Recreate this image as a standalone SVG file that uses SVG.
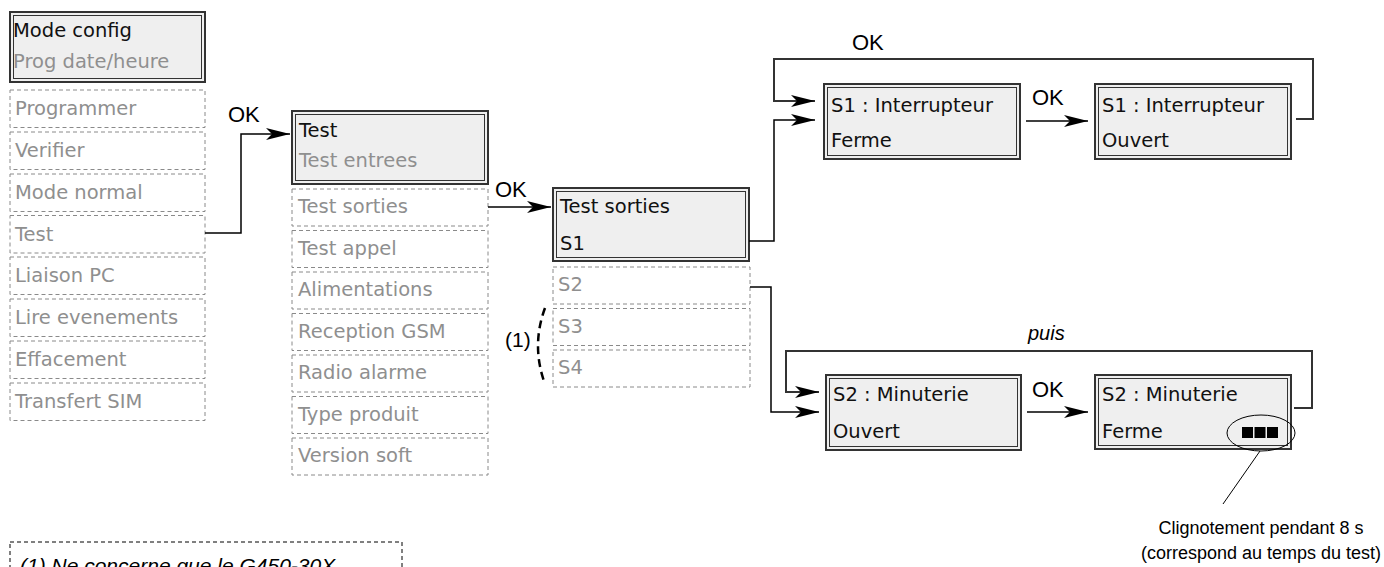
<svg xmlns="http://www.w3.org/2000/svg" width="1384" height="567" viewBox="0 0 1384 567">
<style>
  .main-o { fill: #efefef; stroke: #333; stroke-width: 2; }
  .main-i { fill: none; stroke: #333; stroke-width: 1; }
  .dash { fill: #fff; stroke: #8a8a8a; stroke-width: 1; stroke-dasharray: 4 3; }
  .t { font-family: "DejaVu Sans", "Liberation Sans", sans-serif; font-size: 19.5px; }
  .blk { fill: #111; }
  .gry { fill: #8f8f8f; }
  .lbl { font-family: "Liberation Sans", Arial, sans-serif; font-size: 22px; fill: #000; }
  .cap { font-family: "Liberation Sans", Arial, sans-serif; font-size: 18px; fill: #000; }
  .conn { fill: none; stroke: #000; stroke-width: 1.5; }
  .loop { fill: none; stroke: #333; stroke-width: 2; }
</style>
<defs>
  <marker id="ah" markerWidth="24" markerHeight="14" refX="24" refY="7" orient="auto" markerUnits="userSpaceOnUse">
    <path d="M0,1 L24,7 L0,13 L6,7 z" fill="#000"/>
  </marker>
</defs>

<!-- Left column -->
<g id="mode-config">
  <rect class="main-o" x="10" y="12" width="195" height="70"/>
  <rect class="main-i" x="13.5" y="15.5" width="188" height="63"/>
  <text class="t blk" x="13" y="37">Mode config</text>
  <text class="t gry" x="13" y="68">Prog date/heure</text>
</g>
<g id="menu-left">
  <g id="programmer"><rect class="dash" x="10" y="90" width="195" height="37.5"/><text class="t gry" x="15" y="115">Programmer</text></g>
  <g id="verifier"><rect class="dash" x="10" y="132" width="195" height="37.5"/><text class="t gry" x="15" y="157">Verifier</text></g>
  <g id="mode-normal"><rect class="dash" x="10" y="174" width="195" height="37.5"/><text class="t gry" x="15" y="199">Mode normal</text></g>
  <g id="test-item"><rect class="dash" x="10" y="215.5" width="195" height="37.5"/><text class="t gry" x="15" y="240.5">Test</text></g>
  <g id="liaison-pc"><rect class="dash" x="10" y="257" width="195" height="37.5"/><text class="t gry" x="15" y="282">Liaison PC</text></g>
  <g id="lire-evenements"><rect class="dash" x="10" y="299" width="195" height="37.5"/><text class="t gry" x="15" y="324">Lire evenements</text></g>
  <g id="effacement"><rect class="dash" x="10" y="341" width="195" height="37.5"/><text class="t gry" x="15" y="366">Effacement</text></g>
  <g id="transfert-sim"><rect class="dash" x="10" y="383" width="195" height="37.5"/><text class="t gry" x="15" y="408">Transfert SIM</text></g>
</g>

<!-- Middle column -->
<g id="test">
  <rect class="main-o" x="292" y="111" width="196" height="73"/>
  <rect class="main-i" x="295.5" y="114.5" width="189" height="66"/>
  <text class="t blk" x="299" y="137">Test</text>
  <text class="t gry" x="299" y="167">Test entrees</text>
</g>
<g id="menu-test">
  <g id="test-sorties-item"><rect class="dash" x="292" y="189" width="196" height="37"/><text class="t gry" x="298" y="213">Test sorties</text></g>
  <g id="test-appel"><rect class="dash" x="292" y="230.5" width="196" height="37"/><text class="t gry" x="298" y="254.5">Test appel</text></g>
  <g id="alimentations"><rect class="dash" x="292" y="272" width="196" height="37"/><text class="t gry" x="298" y="296">Alimentations</text></g>
  <g id="reception-gsm"><rect class="dash" x="292" y="313.5" width="196" height="37"/><text class="t gry" x="298" y="337.5">Reception GSM</text></g>
  <g id="radio-alarme"><rect class="dash" x="292" y="355" width="196" height="37"/><text class="t gry" x="298" y="379">Radio alarme</text></g>
  <g id="type-produit"><rect class="dash" x="292" y="396.5" width="196" height="37"/><text class="t gry" x="298" y="420.5">Type produit</text></g>
  <g id="version-soft"><rect class="dash" x="292" y="438" width="196" height="37"/><text class="t gry" x="298" y="462">Version soft</text></g>
</g>

<!-- Test sorties column -->
<g id="test-sorties">
  <rect class="main-o" x="553" y="188" width="196" height="73"/>
  <rect class="main-i" x="556.5" y="191.5" width="189" height="66"/>
  <text class="t blk" x="560" y="213">Test sorties</text>
  <text class="t blk" x="560" y="250">S1</text>
</g>
<g id="menu-sorties">
  <g id="s2"><rect class="dash" x="553" y="267" width="197" height="37"/><text class="t gry" x="558" y="291">S2</text></g>
  <g id="s3"><rect class="dash" x="553" y="308.5" width="197" height="37"/><text class="t gry" x="558" y="332.5">S3</text></g>
  <g id="s4"><rect class="dash" x="553" y="350" width="197" height="37"/><text class="t gry" x="558" y="374">S4</text></g>
</g>
<g id="note-1">
  <path d="M545,308 Q531,346 545,384" fill="none" stroke="#000" stroke-width="2.5" stroke-dasharray="8 5"/>
  <text class="lbl" x="505" y="347" style="font-size:21px">(1)</text>
</g>

<!-- S1 states -->
<g id="s1-ferme">
  <rect class="main-o" x="824" y="84" width="196" height="75"/>
  <rect class="main-i" x="827.5" y="87.5" width="189" height="68"/>
  <text class="t blk" x="831" y="112">S1 : Interrupteur</text>
  <text class="t blk" x="831" y="147">Ferme</text>
</g>
<g id="s1-ouvert">
  <rect class="main-o" x="1095" y="84" width="196" height="75"/>
  <rect class="main-i" x="1098.5" y="87.5" width="189" height="68"/>
  <text class="t blk" x="1102" y="112">S1 : Interrupteur</text>
  <text class="t blk" x="1102" y="147">Ouvert</text>
</g>

<!-- S2 states -->
<g id="s2-ouvert">
  <rect class="main-o" x="826" y="375" width="195" height="75"/>
  <rect class="main-i" x="829.5" y="378.5" width="188" height="68"/>
  <text class="t blk" x="833" y="401">S2 : Minuterie</text>
  <text class="t blk" x="833" y="438">Ouvert</text>
</g>
<g id="s2-ferme">
  <rect class="main-o" x="1095" y="375" width="196" height="74"/>
  <rect class="main-i" x="1098.5" y="378.5" width="189" height="67"/>
  <text class="t blk" x="1102" y="401">S2 : Minuterie</text>
  <text class="t blk" x="1102" y="438">Ferme</text>
  <rect x="1242" y="427" width="11" height="11" fill="#000"/>
  <rect x="1254.5" y="427" width="11" height="11" fill="#000"/>
  <rect x="1267" y="427" width="11" height="11" fill="#000"/>
</g>

<!-- Connectors -->
<g id="connectors">
  <polyline class="conn" points="205,233 241,233 241,134 290,134" marker-end="url(#ah)"/>
  <polyline class="conn" points="488,207 551,207" marker-end="url(#ah)"/>
  <polyline class="conn" points="749,241 774,241 774,120 815,120" marker-end="url(#ah)"/>
  <polyline class="conn" points="1026,121 1088,121" marker-end="url(#ah)"/>
  <polyline class="loop" points="1296,119 1313,119 1313,59 774,59 774,101 815,101" marker-end="url(#ah)"/>
  <polyline class="conn" points="750,287 771,287 771,412 819,412" marker-end="url(#ah)"/>
  <polyline class="conn" points="1027,412 1088,412" marker-end="url(#ah)"/>
  <polyline class="loop" points="1294,408 1312,408 1312,351 786,351 786,392 819,392" marker-end="url(#ah)"/>
</g>

<!-- Labels -->
<g id="labels">
  <text class="lbl" x="228" y="122">OK</text>
  <text class="lbl" x="495" y="197">OK</text>
  <text class="lbl" x="852" y="50">OK</text>
  <text class="lbl" x="1032" y="105">OK</text>
  <text class="lbl" x="1032" y="397">OK</text>
  <text class="lbl" x="1028" y="340" style="font-size:20px;font-style:italic">puis</text>
</g>

<!-- Callout -->
<g id="callout">
  <ellipse cx="1261" cy="433" rx="34" ry="18" fill="none" stroke="#000" stroke-width="1"/>
  <line x1="1260" y1="451" x2="1223" y2="504" stroke="#000" stroke-width="1"/>
  <text class="cap" x="1261" y="534" text-anchor="middle">Clignotement pendant 8 s</text>
  <text class="cap" x="1261" y="559" text-anchor="middle">(correspond au temps du test)</text>
</g>

<!-- Footnote -->
<g id="footnote">
  <rect x="10" y="542" width="392" height="45" fill="none" stroke="#000" stroke-width="1" stroke-dasharray="4 3"/>
  <text x="20" y="573" style="font-family:'Liberation Sans',Arial,sans-serif;font-size:21px;font-style:italic">(1) Ne concerne que le G450-30X</text>
</g>
</svg>
